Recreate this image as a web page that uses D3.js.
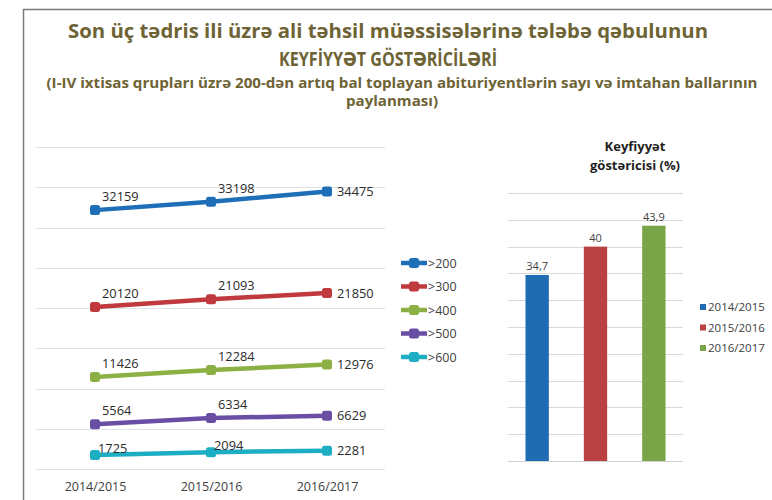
<!DOCTYPE html>
<html><head><meta charset="utf-8">
<script src="https://cdn.jsdelivr.net/npm/d3@7"></script>
<style>html,body{margin:0;padding:0;background:#fff;}svg{display:block;}</style>
</head><body>
<svg id="c" width="772" height="500"></svg>
<script>
// ---- data ----
const titleLines = [
  "Son üç tədris ili üzrə ali təhsil müəssisələrinə tələbə qəbulunun",
  "KEYFİYYƏT GÖSTƏRİCİLƏRİ",
  "(I-IV ixtisas qrupları üzrə 200-dən artıq bal toplayan abituriyentlərin sayı və imtahan ballarının",
  "paylanması)"
];
const years = ["2014/2015", "2015/2016", "2016/2017"];
const seriesNames = [">200", ">300", ">400", ">500", ">600"];
const s200 = [32159, 33198, 34475];
const s300 = [20120, 21093, 21850];
const s400 = [11426, 12284, 12976];
const s500 = [5564, 6334, 6629];
const s600 = [1725, 2094, 2281];
const lineTicks = [0, 5000, 10000, 15000, 20000, 25000, 30000, 35000, 40000];
const barTitle = ["Keyfiyyət", "göstəricisi (%)"];
const barValues = [34.7, 40, 43.9];
const barLabels = ["34,7", "40", "43,9"];
const barTicks = [0, 5, 10, 15, 20, 25, 30, 35, 40, 45, 50];

const lineColors = ["#1f6fb8", "#c0393d", "#8cb043", "#6a4ea4", "#1daec4"];
const barColors = ["#1f6cb2", "#b94142", "#7aa448"];
const allSeries = [s200, s300, s400, s500, s600];

const svg = d3.select("#c");
const FONT = "'Open Sans', 'DejaVu Sans', sans-serif";

// frame
svg.append("path").attr("d", "M23.5,500 V9.5 H772").attr("fill", "none")
  .attr("stroke", "#7a7a7a").attr("stroke-width", 1.5);

// title
const tcol = "#6e6335";
const tSpec = [
  {x: 388, y: 38, size: 19, len: 640},
  {x: 388, y: 66, size: 20, len: 218},
  {x: 402, y: 88, size: 14.5, len: 711},
  {x: 392, y: 106, size: 14.5, len: 92}
];
titleLines.forEach((t, i) => {
  const s = tSpec[i];
  svg.append("text").attr("x", s.x).attr("y", s.y).attr("text-anchor", "middle")
    .attr("font-family", FONT).attr("font-weight", 700).attr("font-size", s.size)
    .attr("fill", tcol).attr("textLength", s.len).attr("lengthAdjust", "spacingAndGlyphs")
    .text(t);
});

// ---- line chart ----
const xL = d3.scalePoint().domain(years).range([95, 327]);
const yL = d3.scaleLinear().domain([0, 40000]).range([469, 147]);

const gl = svg.append("g");
gl.selectAll("line.g").data(lineTicks).join("line")
  .attr("x1", 36).attr("x2", 385)
  .attr("y1", d => Math.round(yL(d)) + 0.5).attr("y2", d => Math.round(yL(d)) + 0.5)
  .attr("stroke", "#dce2e6").attr("stroke-width", 1);

const xAxis = d3.axisBottom(xL).tickSize(0).tickPadding(0);
const xa = gl.append("g").attr("transform", "translate(0,482)").call(xAxis);
xa.select(".domain").remove();
xa.selectAll("text").attr("font-family", FONT).attr("font-size", 12.5).attr("fill", "#404040");

const line = d3.line().x((d, i) => xL(years[i])).y(d => yL(d));
allSeries.forEach((ser, si) => {
  const col = lineColors[si];
  gl.append("path").datum(ser).attr("d", line).attr("fill", "none")
    .attr("stroke", col).attr("stroke-width", 4.5).attr("stroke-linejoin", "round");
  gl.selectAll(null).data(ser).join("rect")
    .attr("x", (d, i) => xL(years[i]) - 5).attr("y", d => yL(d) - 5)
    .attr("width", 10).attr("height", 10).attr("rx", 2.5).attr("fill", col);
  const last = si === allSeries.length - 1;
  gl.selectAll(null).data(ser).join("text")
    .attr("x", (d, i) => xL(years[i]) + (i === 2 ? 10 : (last ? 3 : 7)))
    .attr("y", (d, i) => yL(d) + (i === 2 ? 4.5 : (last ? -2 : -9)))
    .attr("font-family", FONT).attr("font-size", 12.8).attr("fill", "#2b2b2b")
    .text(d => d);
});

// legend for line chart
const lg = svg.append("g");
seriesNames.forEach((n, i) => {
  const y = 263 + i * 23.5;
  lg.append("line").attr("x1", 401).attr("x2", 427).attr("y1", y).attr("y2", y)
    .attr("stroke", lineColors[i]).attr("stroke-width", 4.5);
  lg.append("rect").attr("x", 409).attr("y", y - 5).attr("width", 10).attr("height", 10)
    .attr("rx", 2.5).attr("fill", lineColors[i]);
  lg.append("text").attr("x", 428).attr("y", y + 4.5).attr("font-family", FONT)
    .attr("font-size", 12.5).attr("fill", "#404040").text(n);
});

// ---- bar chart ----
const xB = d3.scaleBand().domain(years).range([508, 683]).paddingInner(0.6).paddingOuter(0.3);
const yB = d3.scaleLinear().domain([0, 50]).range([461, 193]);
const gb = svg.append("g");
gb.selectAll("line").data(barTicks).join("line")
  .attr("x1", 508).attr("x2", 683)
  .attr("y1", d => Math.round(yB(d)) + 0.5).attr("y2", d => Math.round(yB(d)) + 0.5)
  .attr("stroke", d => d === 0 ? "#cfcfcf" : "#d9d9d9").attr("stroke-width", 1);
gb.selectAll("rect").data(barValues).join("rect")
  .attr("x", (d, i) => xB(years[i])).attr("width", xB.bandwidth())
  .attr("y", d => yB(d)).attr("height", d => yB(0) - yB(d))
  .attr("fill", (d, i) => barColors[i]);
gb.selectAll("text.v").data(barValues).join("text")
  .attr("x", (d, i) => xB(years[i]) + xB.bandwidth() / 2).attr("y", d => yB(d) - 5)
  .attr("text-anchor", "middle").attr("font-family", FONT).attr("font-size", 11)
  .attr("fill", "#404040").text((d, i) => barLabels[i]);

barTitle.forEach((t, i) => {
  svg.append("text").attr("x", 635).attr("y", 151 + i * 19).attr("text-anchor", "middle")
    .attr("font-family", FONT).attr("font-weight", 700).attr("font-size", 13)
    .attr("fill", "#1e1e1e").text(t);
});

// bar legend
years.forEach((yv, i) => {
  const y = 307 + i * 20.5;
  svg.append("rect").attr("x", 700).attr("y", y - 3).attr("width", 6).attr("height", 6)
    .attr("fill", barColors[i]);
  svg.append("text").attr("x", 708).attr("y", y + 4).attr("font-family", FONT)
    .attr("font-size", 11.5).attr("fill", "#404040").text(yv);
});
</script>
</body></html>
